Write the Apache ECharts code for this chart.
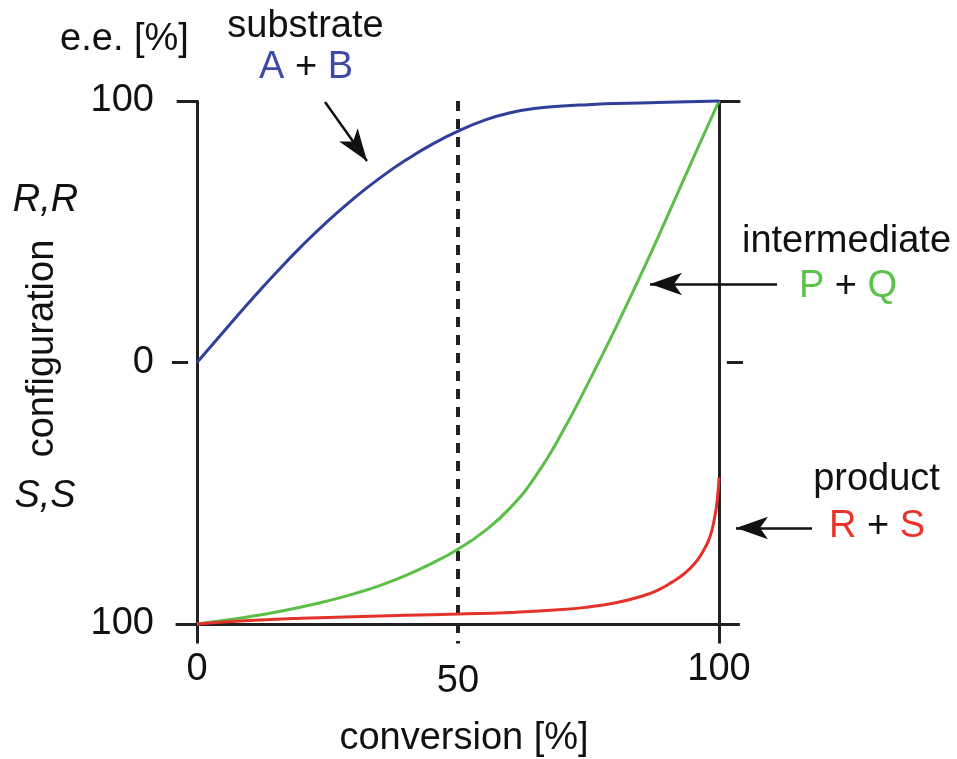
<!DOCTYPE html>
<html><head><meta charset="utf-8">
<script src="https://cdn.jsdelivr.net/npm/echarts@6/dist/echarts.min.js"></script>
<style>html,body{margin:0;padding:0;background:#fff}#c{width:957px;height:759px}</style>
</head><body><div id="c"></div>
<script>
// ---- data (conversion %, signed e.e. %: + = R,R ; - = S,S) ----
const conversionTicks = [0, 50, 100];
const eeTicks = [-100, 0, 100];

const substrateConv = [0, 5, 10, 15, 20, 25, 30, 35, 40, 45, 50, 55, 60, 65, 70, 75, 80, 90, 100];
const substrateEE   = [0, 11.6, 23, 34, 44.4, 54, 62.7, 70.5, 77.4, 83.4, 88.5, 92.6, 95.5, 97.2, 98.1, 98.6, 99.0, 99.5, 100];

const intermediateConv = [0, 5, 10, 15, 20, 25, 30, 35, 40, 45, 50, 55, 60, 65, 70, 75, 80, 85, 90, 95, 100];
const intermediateEE   = [-100, -98.7, -97.2, -95.5, -93.5, -91.2, -88.5, -85.3, -81.4, -76.8, -71.4, -64.6, -55.6, -43.1, -26.6, -7.6, 12.4, 33.4, 55.4, 77.9, 100];

const productConv = [0, 10, 20, 30, 40, 50, 60, 70, 75, 80, 85, 88, 91, 93.5, 95.5, 97, 98.2, 99.1, 99.7, 100];
const productEE   = [-100, -98.7, -97.8, -97.2, -96.7, -96.2, -95.6, -94.5, -93.5, -92, -89.5, -87.3, -84, -80.5, -76.5, -72, -67, -60, -52, -44];

const zip = (a, b) => a.map((v, i) => [v, b[i]]);

const FONT = '"Liberation Sans", Arial, Helvetica, sans-serif';
const FS = 38;
const AX = '#231f20';
const BLUE = '#2f3f9a', BLUE_T = '#3c4aa8';
const GREEN = '#5bbf47', GREEN_T = '#5cc34a';
const RED = '#e2322a', RED_T = '#e8342b';

const chart = echarts.init(document.getElementById('c'), null, {renderer: 'canvas'});

const seg = (a, b) => [{coord: a}, {coord: b}];
const axisStyle = {color: AX, width: 3, type: 'solid'};

const frameLines = [
  seg([-4.1, -100], [104, -100]),
  seg([0, 100], [0, -107.5]),
  seg([-3.9, 100], [0.3, 100]),
  seg([100, 100], [100, -107.5]),
  seg([99.7, 100], [104.1, 100]),
  seg([-4.8, 0], [-1.7, 0]),
  seg([101.5, 0], [104.6, 0])
].map(d => { d[0].lineStyle = axisStyle; return d; });

const dashed = seg([50, 100], [50, -107.5]);
dashed[0].lineStyle = {color: AX, width: 4, type: [10, 8]};

const arrowEnd = (x, y) => ({x, y, symbol: 'arrow', symbolSize: [17, 32]});
const arrows = [
  [{x: 325, y: 102, symbol: 'none'}, arrowEnd(367, 161)],
  [{x: 777, y: 284, symbol: 'none'}, arrowEnd(650, 284)],
  [{x: 812, y: 528, symbol: 'none'}, arrowEnd(736, 528)]
];
arrows.forEach(d => d[0].lineStyle = {color: '#111', width: 2.5, type: 'solid'});

const txt = (x, y, text, extra) => Object.assign({type: 'text', x, y,
  style: Object.assign({text, font: FS + 'px ' + FONT, fill: '#111', align: 'center', verticalAlign: 'middle'}, (extra && extra.style) || {})},
  extra && extra.rotation ? {rotation: extra.rotation} : {});

const option = {
  animation: false,
  backgroundColor: '#fff',
  grid: {left: 170.9, right: 957 - 745.1, top: 101, bottom: 759 - 643.6, containLabel: false},
  xAxis: {
    type: 'value', min: -5, max: 105,
    axisLine: {show: false}, axisTick: {show: false}, splitLine: {show: false},
    axisLabel: {
      customValues: conversionTicks, margin: 7,
      fontFamily: FONT, fontSize: FS, color: '#111',
      formatter: v => v === 50 ? '{m|50}' : '{n|' + v + '}',
      rich: {
        m: {fontFamily: FONT, fontSize: FS, color: '#111', padding: [12, 0, 0, 0]},
        n: {fontFamily: FONT, fontSize: FS, color: '#111'}
      }
    }
  },
  yAxis: {
    type: 'value', min: -107.5, max: 100,
    axisLine: {show: false}, axisTick: {show: false}, splitLine: {show: false},
    axisLabel: {
      customValues: eeTicks, margin: 17,
      fontFamily: FONT, fontSize: FS, color: '#111',
      formatter: v => String(Math.abs(v))
    }
  },
  series: [
    {
      name: 'substrate', type: 'line', data: zip(substrateConv, substrateEE),
      smooth: 0.5, showSymbol: false, clip: false,
      lineStyle: {color: BLUE, width: 3}, z: 5,
      markLine: {
        silent: true, symbol: 'none', label: {show: false}, emphasis: {disabled: true},
        data: frameLines.concat([dashed]).concat(arrows), z: 3
      }
    },
    {
      name: 'intermediate', type: 'line', data: zip(intermediateConv, intermediateEE),
      smooth: 0.5, showSymbol: false, clip: false,
      lineStyle: {color: GREEN, width: 3}, z: 4
    },
    {
      name: 'product', type: 'line', data: zip(productConv, productEE),
      smooth: 0.5, showSymbol: false, clip: false,
      lineStyle: {color: RED, width: 3}, z: 4
    }
  ],
  graphic: {
    elements: [
      txt(124.5, 40, 'e.e. [%]'),
      txt(305.5, 27, 'substrate'),
      txt(306, 68, '{c|A} + {c|B}', {style: {rich: {c: {fill: BLUE_T, font: FS + 'px ' + FONT}}}}),
      txt(45.5, 200, 'R,R', {style: {font: 'italic ' + FS + 'px ' + FONT}}),
      txt(43, 348.5, 'configuration', {rotation: Math.PI / 2}),
      txt(45, 496, 'S,S', {style: {font: 'italic ' + FS + 'px ' + FONT}}),
      txt(846.5, 242, 'intermediate'),
      txt(848, 287, '{c|P} + {c|Q}', {style: {rich: {c: {fill: GREEN_T, font: FS + 'px ' + FONT}}}}),
      txt(876.5, 480, 'product'),
      txt(877, 527, '{c|R} + {c|S}', {style: {rich: {c: {fill: RED_T, font: FS + 'px ' + FONT}}}}),
      txt(464, 739, 'conversion [%]')
    ]
  }
};
chart.setOption(option);
</script></body></html>
